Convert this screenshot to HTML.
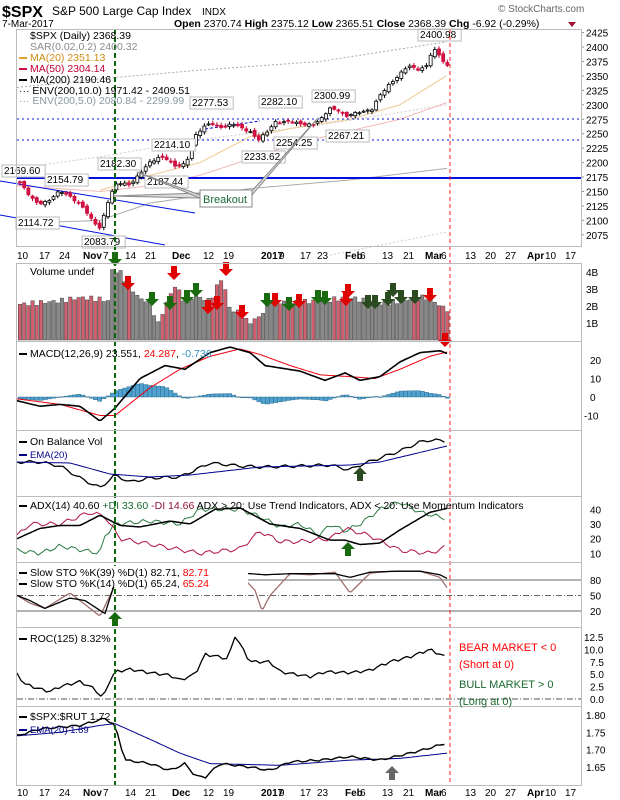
<!DOCTYPE html>
<html><head><meta charset="utf-8"><style>
body{margin:0;background:#fff}
svg{display:block;font-family:"Liberation Sans",sans-serif}
</style></head><body>
<svg id="s" width="620" height="800" xmlns="http://www.w3.org/2000/svg">
<rect width="620" height="800" fill="#fff"/>
<text x="2" y="17" font-size="16" font-weight="bold">$SPX</text>
<text x="52" y="15" font-size="12">S&amp;P 500 Large Cap Index</text>
<text x="202" y="15" font-size="10">INDX</text>
<text x="498" y="12" font-size="10" fill="#666">© StockCharts.com</text>
<text x="2" y="27" font-size="10">7-Mar-2017</text>
<text x="174" y="27" font-size="10.5"><tspan font-weight="bold">Open</tspan> 2370.74 <tspan font-weight="bold">High</tspan> 2375.12 <tspan font-weight="bold">Low</tspan> 2365.51 <tspan font-weight="bold">Close</tspan> 2368.39 <tspan font-weight="bold">Chg</tspan> -6.92 (-0.29%)</text>
<path d="M568 22l8 0l-4 5z" fill="#a01030"/>
<g id="g"></g>
<g fill="none" stroke="#bbb" stroke-width="1">
<rect x="16.5" y="29.5" width="565" height="217"/>
<rect x="16.5" y="263.5" width="565" height="78"/>
<rect x="16.5" y="341.5" width="565" height="89"/>
<rect x="16.5" y="430.5" width="565" height="66"/>
<rect x="16.5" y="496.5" width="565" height="66"/>
<rect x="16.5" y="562.5" width="565" height="65"/>
<rect x="16.5" y="627.5" width="565" height="79"/>
<rect x="16.5" y="706.5" width="565" height="79"/>
</g>
<g font-size="10" fill="#000" id="ax"></g>
<g font-size="10.5">
<text x="30" y="39">$SPX (Daily) 2368.39</text>
<text x="30" y="50" fill="#8a8a8a">SAR(0.02,0.2) 2400.32</text>
<rect x="19" y="57" width="8" height="2" fill="#e0a030"/><text x="30" y="61" fill="#d08a10">MA(20) 2351.13</text>
<rect x="19" y="68" width="8" height="2" fill="#d01040"/><text x="30" y="72" fill="#c00030">MA(50) 2304.14</text>
<rect x="19" y="79" width="8" height="2" fill="#000"/><text x="30" y="83">MA(200) 2190.46</text>
<text x="19" y="94">··· ENV(200,10.0) 1971.42 - 2409.51</text>
<text x="19" y="104" fill="#8899a0">··· ENV(200,5.0) 2080.84 - 2299.99</text>
<text x="30" y="275">Volume undef</text>
<rect x="19" y="353" width="8" height="2"/><text x="30" y="357">MACD(12,26,9) 23.551, <tspan fill="red">24.287</tspan>, <tspan fill="#3090c0">-0.736</tspan></text>
<rect x="19" y="441" width="8" height="2"/><text x="30" y="445">On Balance Vol</text>
<rect x="19" y="454" width="8" height="2" fill="#00008b"/><text x="30" y="458" fill="#00008b" font-size="9.5">EMA(20)</text>
<rect x="19" y="505" width="8" height="2"/><text x="30" y="509">ADX(14) 40.60 <tspan fill="#1a6a30">+DI 33.60</tspan> <tspan fill="#901030">-DI 14.66</tspan> ADX &gt; 20: Use Trend Indicators, ADX &lt; 20: Use Momentum Indicators</text>
<rect x="18" y="566" width="230" height="21" fill="#fff"/>
<rect x="19" y="572" width="8" height="2"/><text x="30" y="576">Slow STO %K(39) %D(1) 82.71, <tspan fill="red">82.71</tspan></text>
<rect x="19" y="583" width="8" height="2"/><text x="30" y="587">Slow STO %K(14) %D(1) 65.24, <tspan fill="red">65.24</tspan></text>
<rect x="19" y="638" width="8" height="2"/><text x="30" y="642">ROC(125) 8.32%</text>
<rect x="19" y="716" width="8" height="2"/><text x="30" y="720">$SPX:$RUT 1.72</text>
<rect x="19" y="729" width="8" height="2" fill="#00008b"/><text x="30" y="733" fill="#00008b" font-size="9.5">EMA(20) 1.69</text>
<text x="459" y="651" fill="red" font-size="11">BEAR MARKET &lt; 0</text>
<text x="459" y="668" fill="red" font-size="11">(Short at 0)</text>
<text x="459" y="688" fill="#1a6a30" font-size="11">BULL MARKET &gt; 0</text>
<text x="459" y="705" fill="#1a6a30" font-size="11">(Long at 0)</text>
</g>
</svg>
<script>
var NS="http://www.w3.org/2000/svg",G=document.getElementById("g"),AX=document.getElementById("ax");
function el(t,a,p){var e=document.createElementNS(NS,t);for(var k in a)e.setAttribute(k,a[k]);(p||G).appendChild(e);return e;}
function ip(K,x){if(x<=K[0][0])return K[0][1];for(var i=1;i<K.length;i++){if(x<=K[i][0]){var a=K[i-1],b=K[i];return a[1]+(b[1]-a[1])*(x-a[0])/(b[0]-a[0]);}}return K[K.length-1][1];}
function line(K,f,st,w,extra,step){var pts=[];step=step||2;for(var x=K[0][0];x<=K[K.length-1][0]+0.01;x+=step){pts.push(x.toFixed(1)+","+f(ip(K,x)+(extra?extra(x):0)).toFixed(1));}var a={points:pts.join(" "),fill:"none",stroke:st,"stroke-width":w||1,"stroke-linejoin":"round"};return el("polyline",a);}
function txt(x,y,s,a){var e=el("text",Object.assign({x:x,y:y},a||{}),AX);e.textContent=s;return e;}
function nz(x){return Math.sin(x*0.9)*2+Math.sin(x*2.3)*1.5;}
var py=function(p){return 47+(2400-p)*0.578};
[2425,2400,2375,2350,2325,2300,2275,2250,2225,2200,2175,2150,2125,2100,2075].forEach(function(p){txt(586,py(p)+4,p);el("line",{x1:581,x2:584,y1:py(p),y2:py(p),stroke:"#999"});});
var P=[[20,2165],[30,2140],[38,2130],[50,2135],[60,2150],[70,2143],[80,2128],[92,2100],[100,2088],[108,2132],[115,2160],[122,2165],[130,2163],[140,2180],[150,2200],[160,2212],[168,2205],[176,2191],[186,2200],[195,2246],[205,2262],[212,2270],[220,2262],[235,2265],[250,2255],[258,2238],[266,2250],[275,2272],[285,2270],[300,2268],[315,2266],[322,2276],[330,2295],[338,2292],[346,2278],[352,2283],[362,2290],[372,2292],[380,2315],[390,2338],[398,2350],[408,2366],[418,2362],[426,2367],[433,2396],[438,2388],[443,2375],[447.4,2368]];
line([[17,2330],[100,2345],[200,2360],[320,2375],[447,2409]],py,"#aaa",1).setAttribute("stroke-dasharray","2,2");
line([[17,2190],[100,2210],[200,2240],[320,2265],[447,2300]],py,"#ccc",1).setAttribute("stroke-dasharray","2,2");
line([[330,2040],[447,2080]],py,"#ccc",1).setAttribute("stroke-dasharray","2,2");
line([[17,2095],[100,2100],[150,2130],[250,2155],[350,2170],[447,2190]],py,"#aaa",1);
line([[17,2160],[60,2155],[100,2150],[150,2160],[200,2178],[300,2235],[400,2275],[447,2304]],py,"#f0b8b8",1);
line([[100,2152],[150,2178],[200,2200],[250,2245],[300,2262],[350,2275],[400,2300],[447,2351]],py,"#f0d0a0",1.2);
el("line",{x1:17,x2:581,y1:178,y2:178,stroke:"#0010e0","stroke-width":2});
el("line",{x1:17,x2:581,y1:119,y2:119,stroke:"#0010e0","stroke-dasharray":"2,3"});
el("line",{x1:17,x2:581,y1:140,y2:140,stroke:"#0010e0","stroke-dasharray":"2,3"});
el("line",{x1:0,x2:195,y1:181,y2:213,stroke:"#0010e0"});
el("line",{x1:0,x2:165,y1:215,y2:245,stroke:"#0010e0"});
el("line",{x1:205,x2:260,y1:129,y2:121,stroke:"#0010e0","stroke-dasharray":"3,2"});
var prev=2167,closes=[];
for(var i=0;i<=102;i++){var x=20+i*4.19;var c=ip(P,x)+nz(i)*0.8;var o=prev+Math.sin(i*1.7)*2.5;var h=Math.max(o,c)+2+Math.abs(Math.sin(i*3.1))*3,l=Math.min(o,c)-2-Math.abs(Math.cos(i*2.2))*3;
el("line",{x1:x,x2:x,y1:py(h),y2:py(l),stroke:c>=o?"#000":"#c00030"});
var t=py(Math.max(o,c)),b=py(Math.min(o,c));
el("rect",{x:x-1.5,y:t,width:3,height:Math.max(1,b-t),fill:c>=o?"#fff":"#d01040",stroke:c>=o?"#000":"#d01040","stroke-width":0.8});
closes.push([x,c,c>=o]);prev=c;}
function lab(x,y,s){var w=s.length*5.6+4;el("rect",{x:x,y:y-9,width:w,height:12,fill:"#fff",stroke:"#bbb"});var e=el("text",{x:x+2,y:y,"font-size":"10"});e.textContent=s;}
lab(418,38,"2400.98");lab(190,106,"2277.53");lab(259,105,"2282.10");lab(312,99,"2300.99");lab(152,148,"2214.10");lab(242,160,"2233.62");lab(274,146,"2254.25");lab(326,139,"2267.21");lab(98,167,"2182.30");lab(145,185,"2187.44");lab(2,174,"2169.60");lab(45,183,"2154.79");lab(16,226,"2114.72");lab(82,245,"2083.79");
el("polygon",{points:"113,196 200,198 200,193",fill:"#ddd",stroke:"#888"});
el("polygon",{points:"137,172 200,198 200,195",fill:"#ddd",stroke:"#888"});
el("polygon",{points:"252,195 318,118 250,193",fill:"#ddd",stroke:"#888"});
el("rect",{x:200,y:190,width:52,height:17,fill:"#fff",stroke:"#888"});
var bt=el("text",{x:203,y:203,"font-size":"11",fill:"#1a6a30"});bt.textContent="Breakout";
var D=[[22,"10"],[44,"17"],[64,"24"],[88,"Nov",1],[108,"7"],[130,"14"],[150,"21"],[177,"Dec",1],[208,"12"],[228,"19"],[266,"2017",1],[284,"9"],[305,"17"],[322,"23"],[350,"Feb",1],[365,"6"],[387,"13"],[408,"21"],[430,"Mar",1],[446,"6"],[470,"13"],[490,"20"],[510,"27"],[532,"Apr",1],[550,"10"],[570,"17"]];
[259,796].forEach(function(y){D.forEach(function(d){txt(d[0]-5,y,d[1],d[2]?{"font-weight":"bold"}:{});});});
var vy=function(v){return 340-v*17};
var V=[[20,2.1],[40,2.2],[60,2.3],[80,2.5],[100,2.4],[108,2.3],[112,4.1],[120,4.0],[128,3.3],[140,2.4],[150,2.3],[158,0.9],[165,2.0],[175,3.2],[185,2.3],[195,2.6],[210,2.3],[222,3.7],[230,1.8],[240,1.6],[248,1.0],[255,1.2],[262,1.5],[268,2.3],[290,2.2],[320,2.3],[350,2.5],[380,2.1],[420,2.5],[430,2.5],[440,2.0],[447,1.8]];
closes.forEach(function(c,i){var v=ip(V,c[0])+Math.sin(i*2.7)*0.15;el("rect",{x:c[0]-1.7,y:vy(v),width:3.4,height:340-vy(v),fill:c[2]?"#888":"#d06070",stroke:"#444","stroke-width":0.5});});
[[4,"4B"],[3,"3B"],[2,"2B"],[1,"1B"]].forEach(function(a){txt(586,vy(a[0])+4,a[1]);});
function arrow(x,y,dn,col){var d=dn?"M"+(x-3)+","+y+"h6v7h4l-7,7l-7,-7h4z":"M"+(x-3)+","+(y+14)+"h6v-7h4l-7,-7l-7,7h4z";el("path",{d:d,fill:col});}
var R="#e00000",GN="#1a6a10",DG="#2a4a20";
[[128,276],[174,266],[208,300],[217,296],[226,262],[242,305],[275,293],[299,294],[346,292],[348,284],[430,288],[445,333]].forEach(function(a){arrow(a[0],a[1],1,R)});
[[152,292],[170,296],[187,290],[196,283],[267,293],[289,297],[318,290],[325,291],[368,295],[375,295],[388,292],[393,283],[401,290],[415,290]].forEach(function(a){arrow(a[0],a[1],1,a[0]>360?DG:GN)});
var my=function(v){return 397-v*1.85};
var M1=[[17,-2],[40,-5],[60,-4],[80,-5],[100,-13],[115,-6],[140,10],[165,17],[185,15],[210,24],[230,27],[250,24],[265,17],[300,14],[325,9],[345,13],[360,9],[380,11],[400,19],[420,24],[440,25],[447,23.5]];
var M2=[[17,-1],[60,-4],[100,-10],[115,-10],[150,5],[180,15],[210,22],[240,26],[260,23],[290,17],[320,12],[350,11],[375,10],[400,15],[430,22],[447,24.3]];
closes.forEach(function(c){var h=(ip(M1,c[0])-ip(M2,c[0]))*0.8;var y0=my(0),y1=my(h);el("rect",{x:c[0]-2,y:Math.min(y0,y1),width:4.2,height:Math.max(0.5,Math.abs(y1-y0)),fill:"#50a0d0",stroke:"#206080","stroke-width":0.4});});
var cp=el("clipPath",{id:"mc"});el("rect",{x:17,y:346,width:564,height:84},cp);
line(M2,my,"#f00010",1).setAttribute("clip-path","url(#mc)");
line(M1,my,"#000",1.6).setAttribute("clip-path","url(#mc)");
[[20,"20"],[10,"10"],[0,"0"],[-10,"-10"]].forEach(function(a){txt(a[0]<0?584:590,my(a[0])+4,a[1]);});
line([[17,462],[40,462],[60,466],[80,478],[100,488],[115,475],[130,482],[150,478],[180,477],[210,463],[240,466],[260,467],[300,466],[330,465],[350,470],[360,465],[380,458],[400,451],[420,442],[430,440],[447,441]],function(v){return v},"#000",1.3,function(x){return Math.sin(x*0.37)*1.5},4.19);
line([[17,462],[70,463],[110,474],[150,477],[190,475],[260,467],[350,465],[380,462],[447,446]],function(v){return v},"#00008b",1);
arrow(360,467,0,DG);
var ay=function(v){return 568-v*1.467};
line([[17,12],[40,10],[60,15],[100,10],[105,22],[115,30],[150,32],[180,30],[200,40],[215,40],[240,40],[260,35],[280,28],[300,30],[320,22],[330,30],[345,25],[360,30],[380,40],[400,45],[420,38],[447,33.6]],ay,"#2a7a40",1,function(x){return Math.sin(x*0.45)*1.5},4.19);
line([[17,22],[30,30],[60,30],[90,38],[105,35],[120,20],[160,15],[200,10],[240,13],[260,25],[280,18],[300,18],[330,20],[345,27],[370,22],[400,12],[430,10],[447,14.7]],ay,"#b01040",1,function(x){return Math.sin(x*0.4)*1.5},4.19);
line([[17,20],[40,27],[60,29],[80,29],[100,36],[120,29],[140,28],[170,32],[190,30],[215,40],[240,41],[270,30],[300,27],[330,19],[345,19],[360,16],[380,17],[400,26],[430,38],[447,40.6]],ay,"#000",1.5);
[40,30,20,10].forEach(function(v){txt(590,ay(v)+4,v);});
arrow(348,542,0,GN);
var sy=function(v){return 621.3-v*0.517};
el("line",{x1:17,x2:581,y1:sy(80),y2:sy(80),stroke:"#666"});
el("line",{x1:17,x2:581,y1:sy(20),y2:sy(20),stroke:"#666"});
el("line",{x1:17,x2:581,y1:sy(50),y2:sy(50),stroke:"#666","stroke-dasharray":"6,2,1,2"});
var sc=el("clipPath",{id:"sc"});el("rect",{x:17,y:563,width:564,height:64},sc);
line([[17,50],[30,35],[45,25],[70,55],[100,10],[115,70],[130,98],[215,92],[240,90],[255,60],[262,20],[270,50],[290,92],[310,90],[335,95],[350,55],[370,93],[390,97],[420,97],[440,85],[447,65]],sy,"#a07070",1.3).setAttribute("clip-path","url(#sc)");
line([[17,50],[30,40],[45,25],[70,45],[85,40],[105,15],[115,75],[120,98],[210,95],[230,95],[265,90],[290,92],[335,92],[350,85],[370,95],[400,97],[420,97],[440,90],[447,83]],sy,"#000",1.3).setAttribute("clip-path","url(#sc)");
el("rect",{x:18,y:566,width:222,height:21,fill:"#fff"});
[[80,"80"],[50,"50"],[20,"20"]].forEach(function(a){txt(590,sy(a[0])+4,a[1]);});
arrow(115,612,0,GN);
var ry=function(v){return 699-v*4.96};
el("line",{x1:17,x2:581,y1:ry(0),y2:ry(0),stroke:"#555","stroke-dasharray":"6,2,1,2"});
line([[17,5],[25,3],[40,2],[50,1.5],[60,2.5],[80,3.5],[95,2],[103,0],[108,3],[115,5.5],[130,6],[150,5.3],[170,4.8],[180,3.8],[195,5],[205,9],[220,8.5],[228,8],[235,12.8],[250,7.5],[270,7.5],[280,5.5],[310,4.5],[325,5.5],[350,5.3],[370,5.8],[390,7.5],[410,8.5],[430,10],[447,8.3]],ry,"#000",1.3,function(x){return Math.sin(x*0.5)*0.3},4.19);
[[12.5,"12.5"],[10,"10.0"],[7.5,"7.5"],[5,"5.0"],[2.5,"2.5"],[0,"0.0"]].forEach(function(a){txt(a[0]>=10?584:590,ry(a[0])+4,a[1]);});
var uy=function(v){return 715+(1.80-v)*347};
line([[17,1.74],[60,1.75],[100,1.77],[115,1.775],[150,1.73],[180,1.69],[210,1.66],[280,1.655],[350,1.67],[400,1.675],[447,1.69]],uy,"#00008b",1);
line([[17,1.74],[40,1.76],[80,1.77],[105,1.79],[115,1.77],[125,1.67],[150,1.66],[170,1.64],[185,1.66],[195,1.625],[205,1.62],[220,1.66],[250,1.65],[270,1.64],[290,1.665],[320,1.67],[350,1.68],[380,1.67],[410,1.69],[430,1.705],[447,1.72]],uy,"#000",1.4,function(x){return Math.sin(x*0.45)*0.003},4.19);
[[1.8,"1.80"],[1.75,"1.75"],[1.7,"1.70"],[1.65,"1.65"]].forEach(function(a){txt(586,uy(a[0])+4,a[1]);});
arrow(392,766,0,"#666");
el("line",{x1:115,x2:115,y1:29,y2:785,stroke:"#0a6a0a","stroke-width":2,"stroke-dasharray":"5,3"});
el("line",{x1:450,x2:450,y1:29,y2:785,stroke:"#ff2020","stroke-width":1,"stroke-dasharray":"4,3"});
arrow(115,252,1,GN);
</script>
</body></html>
